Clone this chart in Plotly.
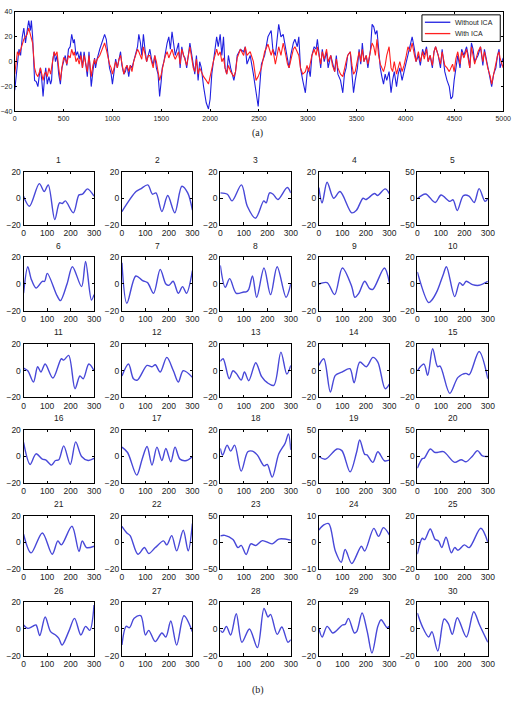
import plotly.graph_objects as go

W, H = 520, 703

# ---------------- panel (a) data ----------------
t_x = [0,27,43,60,77,93,110,127,143,160,
       170,183,193,203,220,237,253,263,277,290,
       303,317,333,350,367,377,387,403,417,433,
       450,467,483,500,517,533,550,567,583,600,
       610,627,643,660,677,693,710,727,743,760,
       770,783,800,817,827,843,870,893,920,937,
       950,970,987,1000,1017,1033,1050,1067,1083,1097,
       1117,1133,1150,1167,1183,1200,1217,1237,1257,1270,
       1287,1300,1317,1333,1350,1367,1383,1400,1417,1433,
       1450,1467,1483,1500,1510,1527,1543,1560,1577,1593,
       1610,1627,1643,1677,1693,1710,1727,1743,1760,1793,
       1810,1827,1843,1860,1877,1893,1910,1933,1960,1983,
       2000,2017,2033,2050,2067,2083,2103,2120,2137,2153,
       2170,2187,2210,2243,2260,2277,2310,2343,2360,2377,
       2410,2443,2470,
       2492,2525,2558,2592,2625,2642,2668,2702,2725,2748,
       2775,2792,2808,2825,2852,2868,2892,2908,2925,2948,
       2975,2992,3008,3025,3042,3065,3085,3098,3115,3132,
       3148,3168,3192,3208,3235,3252,3275,3292,3308,3335,
       3358,3375,3392,3408,3435,3452,3468,3485,3508,3525,
       3542,3558,3575,3598,3615,3642,3658,3675,3692,3708,
       3725,3742,3758,3775,3792,3808,3832,3852,3868,3885,
       3908,3925,3942,3965,3985,4008,4025,4048,4068,4092,
       4108,4132,4152,4175,4192,4215,4232,4252,4275,4292,
       4308,4335,4358,4375,4402,4425,4448,4465,4482,4498,
       4515,4535,4558,4575,4598,4625,4642,4658,4675,4692,
       4708,4742,4768,4792,4808,4842,4868,4882,4902,4925,
       4942,4958,4968,5000]

without_ica = [-23,0,10,5,20,27,15,25,33,25,
       33,20,0,-15,-16,-20,-10,-5,-15,-28,
       -15,-5,-18,-12,-18,-15,0,8,0,5,
       -10,-18,-5,0,5,-3,10,12,22,15,
       18,5,8,2,8,-5,8,-2,-12,8,
       -5,-20,-8,3,-5,2,10,15,22,18,
       10,-5,-10,-18,-8,2,-5,3,8,-3,
       -10,-8,-3,-12,-3,-5,0,5,12,22,
       15,5,22,10,0,5,10,2,-3,5,
       -5,-10,-28,-15,-5,0,8,15,20,10,
       24,12,5,15,-5,12,5,3,-5,15,
       5,-5,-10,5,-15,0,-5,-20,-33,-38,
       -30,-10,0,10,20,12,22,5,20,-5,
       -10,5,-5,-15,-8,5,10,8,12,-2,
       5,-10,-25,
       -36,-2,5,20,25,10,5,30,20,22,
       10,5,-5,5,15,18,12,20,-5,-15,
       -25,-10,-5,-12,5,12,10,18,5,-5,
       10,0,8,-5,5,0,-8,5,-10,-15,
       -25,-10,-5,5,8,-10,-25,-15,-5,10,
       -2,15,0,5,-5,10,30,28,22,25,
       10,-5,-12,-18,-10,-15,-8,-25,-15,-8,
       -20,-10,-5,-15,-8,0,5,12,20,10,
       0,5,-3,10,5,12,0,5,-5,8,
       12,5,-5,10,-8,-15,-20,-30,-28,-15,
       -5,5,-5,10,5,12,5,-5,15,10,
       0,5,12,-3,10,-5,-15,-20,-10,-5,
       5,10,-5,3]

with_ica = [-10,8,5,10,15,18,20,22,27,22,
       18,15,5,-5,-10,-12,-8,-5,-10,-15,
       -10,-8,-12,-5,-10,-5,0,8,5,8,
       -5,-15,-5,3,2,-2,5,3,10,5,
       8,0,3,-2,5,-5,5,-3,-8,5,
       -5,-12,-3,2,-2,2,5,10,15,10,
       5,-2,-5,-10,-5,0,-5,2,5,-2,
       -10,-5,-3,-8,-3,-8,0,5,10,8,
       5,2,12,5,0,5,5,0,-5,5,
       0,-8,-15,-10,-5,0,5,8,3,6,
       10,5,2,8,-2,10,5,0,-3,12,
       5,-5,-8,2,-10,-5,-8,-12,-15,-18,
       -12,-5,0,5,10,5,8,0,3,-5,
       -10,-3,-8,-12,-8,3,10,5,12,5,
       8,0,-15,
       -12,-5,8,14,5,10,-2,12,5,15,
       5,-2,-5,0,10,12,8,5,-5,-10,
       -8,-3,-8,-2,5,10,5,12,3,-2,
       8,2,10,0,5,-3,-8,2,-5,-10,
       -12,-5,0,5,8,-3,-10,-8,0,8,
       0,10,0,5,-2,8,15,12,5,18,
       5,-2,-5,-8,-3,5,12,-5,-8,0,
       -10,-5,0,-8,-3,5,12,8,15,5,
       0,8,0,8,2,10,0,5,-3,8,
       12,5,-2,8,-3,-5,-8,-5,-2,-8,
       2,8,-2,8,3,10,2,-5,12,5,
       -2,8,12,0,8,-5,-12,-18,-10,-3,
       5,8,3,-5]

assert len(t_x) == len(without_ica) == len(with_ica)

series_names = ["Without ICA", "With ICA"]
series_colors = ["#2020e0", "#ff2020"]
top_xticks = list(range(0, 5001, 500))
top_yticks = [-40, -20, 0, 20, 40]

# ---------------- panel (b) data ----------------
sub_x = [
    [0,25,67,88,105,133,153,165,178,212,236,251,272,300],
    [0,60,80,110,130,145,170,195,225,255,280,300],
    [0,30,50,90,115,150,185,195,210,225,245,285,300],
    [0,14,35,63,90,140,160,188,200,237,250,282,300],
    [0,35,76,101,138,152,170,196,220,242,263,288,300],
    [0,18,32,53,80,90,101,143,157,185,208,247,264,289,300],
    [0,21,59,88,109,135,163,187,200,218,240,258,275,300],
    [0,21,40,68,100,110,121,137,155,186,214,242,280,300],
    [0,35,67,100,140,153,170,195,216,230,279,300],
    [0,48,62,85,110,124,159,180,194,208,235,263,300],
    [0,18,42,60,74,92,125,161,171,192,219,240,254,278,300],
    [0,28,49,66,107,128,142,163,191,219,240,261,300],
    [0,12,38,54,68,89,103,121,151,176,200,228,258,283,300],
    [0,21,49,70,98,132,150,174,202,230,251,282,300],
    [0,28,44,65,86,97,138,173,207,221,263,300],
    [0,28,53,80,94,119,136,150,171,199,222,247,275,300],
    [0,24,63,86,107,128,149,170,187,208,226,247,275,300],
    [0,10,29,44,61,89,117,137,158,186,200,221,249,276,290,300],
    [0,28,77,98,133,160,174,195,205,230,251,279,300],
    [0,21,30,55,76,111,159,187,207,235,256,277,300],
    [0,32,80,122,146,161,206,236,250,268,300],
    [0,21,35,68,96,114,142,177,191,212,233,261,282,300],
    [0,19,54,75,89,110,130,151,179,221,249,300],
    [0,21,42,70,95,112,140,181,195,234,254,275,300],
    [0,21,31,55,76,90,104,122,145,159,173,200,221,270,300],
    [0,18,39,53,69,92,115,136,150,164,192,217,244,264,282,300],
    [0,18,32,52,80,100,114,142,170,187,208,233,264,300],
    [0,10,26,44,68,92,124,158,186,203,214,242,262,288,300],
    [0,14,35,59,70,100,112,126,151,161,184,206,226,251,265,290,300],
    [0,21,48,62,87,114,132,149,170,209,240,265,300],
]
sub_y = [
    [1.5,-6,11,5,10,-16,-3.5,-4,-2,-11,2.5,3,7,1.5],
    [-10,5,7,10,3,4,-10,2,-11,9,4,-9],
    [4,3,-2,10,-6,-15,-2,-3.5,4,3,-1,8,4],
    [8,-3.5,12,0,5,-11,-9,0,-1,3.5,2,7,3.5],
    [-1,8,-8,6,-6,-3,-23,5,4,-8,18,-6,-1],
    [-7,13,4,-3,2,2,8,-9,-12.5,0,13,-2,17,-12,-8],
    [16,-14.5,6,2.5,1,-7,11,0,-1,2,-7,-2,-7,10],
    [14,-2.5,4,-7,-6,-6,-4,6,-10,12,-8,13,-10,0],
    [0,1,-8,12,-2,-10,-7,2,-3.5,-4,12,1],
    [9,-14,-12,-5,7,13,-9.5,1,-1,2,-0.5,-1,2],
    [2,0,-8.5,3,-1,5,-5.5,9,8,11.5,-13.5,-4,-6,5,0],
    [-4,5,-6,-7,4,3,4.5,-1,10,0,-8.5,0,-5],
    [7,9,-6,0,-2,-7,-1,-7.5,6,-4.5,-9,-11,14,-2.5,4],
    [4,9,-16,-3.5,-1,1.5,-9,6.5,3,10,6.5,-13.5,-10],
    [0,5,-3.5,16.5,3,3.5,-17,-5,-2,-3,14.5,-6],
    [10.5,-6,2,-2,-2.5,-6.5,-3,-2.5,8,-6,11,0,-3,-1.5],
    [7,3,-14,-2,7.5,-6.5,7,-3,6,-4,7,-2,-3,0],
    [6,1,8.5,4,8.5,-11,3.5,4,1,-7,-6,-15.5,2,10,17,5],
    [0,-5,14,11,-29,7,31,4,3,-11,9,-8,-7],
    [-22,-4,-3,14,7.5,9,-11,-6,-10,1,11,1,0],
    [6,-8,7,-9,1,-2,12,-7,1,-4,-3],
    [12,7,5,-9,-4,-8.5,-4,1,-2,5,-6.5,9,-6.5,14],
    [12,13,5,-10,-6,-23,-3,-6,3,-3,6,4],
    [4.6,6.5,7,-3.3,-7.5,-2.7,-8,-1.5,-3.3,5.2,2.2,5.5,2.8],
    [-9,3,2,10,2,1,-4,3.7,-8,-4,-6,-2,-4,10.5,0],
    [3,0.5,2,3,-5,9,-2,-4.5,-7,-12,-2,8,-4.5,2,-1,18],
    [-12,2,1,8,10,-4.5,-1,-9.5,-3,-6,6,-12,10,-2],
    [-1,-2.5,2,-4.5,11.5,-10,0,-14,15.5,9,11,-4,1.5,-10,-8],
    [0.5,-6,2,-3,-2,3,3.5,8,-3,-2,12,-2,-18,2,7,1,2],
    [12,2,-6,-2,-16.5,7.5,4,-4,8.5,-6,13,3,-10],
]
sub_range = [20,20,20,20,50, 20,20,20,20,20, 20,20,20,20,20,
             20,20,20,50,50, 20,20,50,10,20, 20,20,20,20,20]
sub_titles = [str(i) for i in range(1, 31)]
sub_xticks = [0, 100, 200, 300]

# ---------------- layout geometry (pixels) ----------------
col_left = [21, 121.5, 222, 322.7, 423.3]
box_w = 72
row_top = [169, 256, 344, 431, 518, 606]
box_h = 54

def px_x(p):
    return p / W

def px_y(p):
    return 1 - p / H

fig = go.Figure()
tick_font = dict(family="Liberation Sans, Arial", size=8.5, color="#222")
small_font = dict(family="Liberation Sans, Arial", size=7, color="#222")

axis_common = dict(showline=True, linecolor="black", linewidth=1, mirror="ticks",
                   ticks="inside", ticklen=2.5, tickcolor="black", showgrid=False,
                   zeroline=False)

layout = dict(width=W, height=H, margin=dict(l=0, r=0, t=0, b=0), autosize=False,
              paper_bgcolor="white", plot_bgcolor="white", showlegend=False)

# top panel
for name, ys, col in zip(series_names, [without_ica, with_ica], series_colors):
    fig.add_trace(go.Scatter(x=t_x, y=ys, mode="lines", name=name,
                             line=dict(color=col, width=1.1), xaxis="x", yaxis="y"))
layout["xaxis"] = dict(axis_common, domain=[px_x(12), px_x(511)], range=[0, 5000],
                       tickvals=top_xticks, anchor="y", tickfont=small_font)
layout["yaxis"] = dict(axis_common, domain=[px_y(108), px_y(7)], range=[-40, 40],
                       tickvals=top_yticks, anchor="x", tickfont=small_font)

annotations = []
shapes = []
for i in range(30):
    r, c = divmod(i, 5)
    k = i + 2
    xa, ya = f"x{k}", f"y{k}"
    fig.add_trace(go.Scatter(x=sub_x[i], y=sub_y[i], mode="lines", showlegend=False,
                             line=dict(color="#4848d8", width=1.4, shape="spline", smoothing=0.9),
                             xaxis=xa, yaxis=ya))
    R = sub_range[i]
    left, top = col_left[c], row_top[r]
    layout[f"xaxis{k}"] = dict(axis_common, domain=[px_x(left), px_x(left + box_w)],
                               range=[0, 300], tickvals=sub_xticks, anchor=ya,
                               tickfont=tick_font)
    layout[f"yaxis{k}"] = dict(axis_common, domain=[px_y(top + box_h), px_y(top)],
                               range=[-R, R], tickvals=[-R, 0, R], anchor=xa,
                               tickfont=tick_font)
    annotations.append(dict(text=sub_titles[i], xref="paper", yref="paper",
                            x=px_x(left + box_w / 2), y=px_y(top - 12),
                            xanchor="center", yanchor="middle", showarrow=False,
                            font=dict(family="Liberation Sans, Arial", size=8.5, color="#222")))

# compact MATLAB-style legend box
shapes.append(dict(type="rect", xref="paper", yref="paper",
                   x0=px_x(428), x1=px_x(508), y0=px_y(37), y1=px_y(10),
                   line=dict(color="black", width=1), fillcolor="white", layer="above"))
for j, (name, col) in enumerate(zip(series_names, series_colors)):
    yy = 17.5 + j * 11.5
    shapes.append(dict(type="line", xref="paper", yref="paper",
                       x0=px_x(431), x1=px_x(457), y0=px_y(yy), y1=px_y(yy),
                       line=dict(color=col, width=1.3), layer="above"))
    annotations.append(dict(text=name, xref="paper", yref="paper", x=px_x(460), y=px_y(yy),
                            xanchor="left", yanchor="middle", showarrow=False,
                            font=dict(family="Liberation Sans, Arial", size=7, color="#222")))

annotations.append(dict(text="(a)", xref="paper", yref="paper", x=px_x(260), y=px_y(130),
                        xanchor="center", yanchor="middle", showarrow=False,
                        font=dict(family="Liberation Serif, Times New Roman", size=10, color="#222")))
annotations.append(dict(text="(b)", xref="paper", yref="paper", x=px_x(260), y=px_y(695),
                        xanchor="center", yanchor="middle", showarrow=False,
                        font=dict(family="Liberation Serif, Times New Roman", size=10, color="#222")))
layout["annotations"] = annotations
layout["shapes"] = shapes

fig.update_layout(**layout)
fig.write_html("out.html")
